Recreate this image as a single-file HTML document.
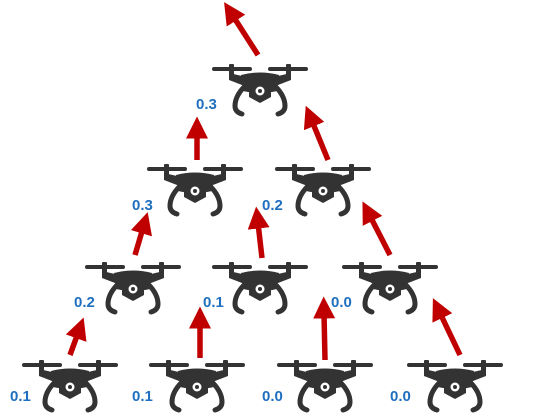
<!DOCTYPE html>
<html><head><style>
html,body{margin:0;padding:0;background:#fff;width:534px;height:416px;overflow:hidden}
svg text{font-family:"Liberation Sans",sans-serif;font-weight:bold;font-size:15px;fill:#1f6fbf}
</style></head><body>
<svg width="534" height="416" viewBox="0 0 534 416" xmlns="http://www.w3.org/2000/svg">
<defs>
<g id="d" fill="#333">
<rect x="0" y="3" width="40" height="4" rx="2"/>
<rect x="56" y="3" width="40" height="4" rx="2"/>
<rect x="17" y="0" width="5" height="11" rx="1"/>
<rect x="74" y="0" width="5" height="11" rx="1"/>
<path d="M17 9 L30 12 L66 12 L79 9 L79 16 L66 21 L30 21 L17 16Z"/>
<path d="M29 11 Q48 6 67 11 L65 27 Q48 31 31 27Z"/>
<path d="M37 19 L59 19 L59 33 L48 39 L37 33Z"/>
<circle cx="48" cy="27" r="4.5" fill="#fff"/>
<circle cx="48" cy="27" r="2"/>
<path d="M33 22 Q23 32 23 42 Q23 48 30 50" fill="none" stroke="#333" stroke-width="5" stroke-linecap="round"/>
<path d="M63 22 Q73 32 73 42 Q73 48 66 50" fill="none" stroke="#333" stroke-width="5" stroke-linecap="round"/>
</g>
<marker id="a" markerWidth="4" markerHeight="4" refX="1" refY="2" orient="auto" markerUnits="strokeWidth">
<path d="M0 0 L4 2 L0 4Z" fill="#c00000"/>
</marker>
</defs>
<g stroke="#c00000" stroke-width="5.5" marker-end="url(#a)">
<line x1="258" y1="55" x2="233" y2="16"/>
<line x1="197" y1="160" x2="197" y2="133"/>
<line x1="328" y1="160" x2="312" y2="121"/>
<line x1="135" y1="255" x2="143" y2="228"/>
<line x1="262" y1="258" x2="258" y2="223"/>
<line x1="390" y1="255" x2="370" y2="216"/>
<line x1="70" y1="355" x2="78" y2="333"/>
<line x1="200" y1="358" x2="200" y2="323"/>
<line x1="325" y1="360" x2="324" y2="313"/>
<line x1="460" y1="355" x2="440" y2="313"/>
</g>
<use href="#d" x="212" y="64"/>
<use href="#d" x="147" y="164"/>
<use href="#d" x="275" y="164"/>
<use href="#d" x="85" y="262"/>
<use href="#d" x="212" y="262"/>
<use href="#d" x="342" y="262"/>
<use href="#d" x="22" y="360"/>
<use href="#d" x="149" y="360"/>
<use href="#d" x="277" y="360"/>
<use href="#d" x="407" y="360"/>
<text x="196" y="109">0.3</text>
<text x="132" y="210">0.3</text>
<text x="262" y="210">0.2</text>
<text x="74" y="307">0.2</text>
<text x="203" y="307">0.1</text>
<text x="331" y="307">0.0</text>
<text x="10" y="401">0.1</text>
<text x="132" y="401">0.1</text>
<text x="262" y="401">0.0</text>
<text x="390" y="401">0.0</text>
</svg>
</body></html>
